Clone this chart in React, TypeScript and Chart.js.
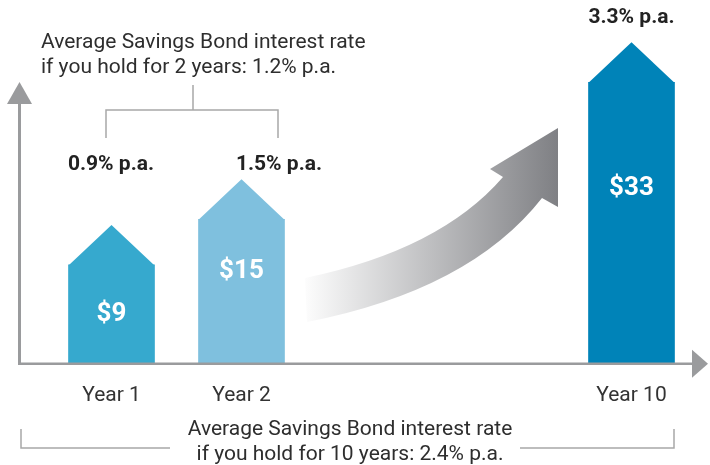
import React, { useEffect, useRef } from 'react';
import { Chart, registerables } from 'chart.js';

Chart.register(...registerables);

// ---- data ----
const categories = ['Year 1', 'Year 2', '', '', 'Year 10'];
const bondValues: (number | null)[] = [9, 15, null, null, 33];
const valueLabels = ['$9', '$15', '', '', '$33'];
const rateLabels = ['0.9% p.a.', '1.5% p.a.', '', '', '3.3% p.a.'];
const barColors = ['#36a9ce', '#7fc0de', '#ffffff', '#ffffff', '#0083b8'];
const avgTitle = 'Average Savings Bond interest rate';
const avgTwoYears = 'if you hold for 2 years: 1.2% p.a.';
const avgTenYears = 'if you hold for 10 years: 2.4% p.a.';

const FONT = 'Roboto';
const TEXT = '#2e2e2e';
const AXIS = '#9a9b9d';
const BRACKET = '#a8a8a8';

const infographic = {
  id: 'infographic',
  afterDatasetsDraw(chart: any) {
    const ctx: CanvasRenderingContext2D = chart.ctx;
    const area = chart.chartArea;
    const base = area.bottom;
    const opts = chart.options.plugins.infographic;
    const meta = chart.getDatasetMeta(0);
    ctx.save();

    // curved gradient arrow (decoration)
    const grad = ctx.createLinearGradient(300, 0, 560, 0);
    grad.addColorStop(0, '#ffffff');
    grad.addColorStop(1, '#7e7f83');
    ctx.fillStyle = grad;
    ctx.beginPath();
    ctx.moveTo(305, 278);
    ctx.quadraticCurveTo(440, 250, 503, 177);
    ctx.lineTo(490, 169);
    ctx.lineTo(558, 128);
    ctx.lineTo(558, 207);
    ctx.lineTo(542, 198);
    ctx.quadraticCurveTo(470, 290, 307, 322);
    ctx.closePath();
    ctx.fill();

    // arrow tops + value labels
    meta.data.forEach((bar: any, i: number) => {
      if (bondValues[i] == null) return;
      const { x, y, width } = bar.getProps(['x', 'y', 'width'], true);
      ctx.fillStyle = barColors[i];
      ctx.beginPath();
      ctx.moveTo(x - width / 2, y + 0.5);
      ctx.lineTo(x, y - opts.tipHeight);
      ctx.lineTo(x + width / 2, y + 0.5);
      ctx.closePath();
      ctx.fill();

      ctx.fillStyle = '#ffffff';
      ctx.font = `bold 26px ${FONT}`;
      ctx.textAlign = 'center';
      ctx.textBaseline = 'middle';
      ctx.fillText(valueLabels[i], x, y + opts.valueLabelOffsets[i]);
    });

    // rate labels
    ctx.fillStyle = '#222222';
    ctx.font = `bold 21px ${FONT}`;
    ctx.textAlign = 'center';
    ctx.textBaseline = 'alphabetic';
    const last = meta.data[4].getProps(['x', 'y'], true);
    ctx.fillText(rateLabels[0], 111, 170);
    ctx.fillText(rateLabels[1], 279, 170);
    ctx.fillText(rateLabels[4], last.x, last.y - opts.tipHeight - 19);

    // axes with arrowheads
    ctx.strokeStyle = AXIS;
    ctx.fillStyle = AXIS;
    ctx.lineWidth = 3;
    ctx.beginPath();
    ctx.moveTo(19.5, base + 1);
    ctx.lineTo(19.5, 100);
    ctx.stroke();
    ctx.beginPath();
    ctx.moveTo(19.5, 82);
    ctx.lineTo(7, 104);
    ctx.lineTo(32, 104);
    ctx.closePath();
    ctx.fill();

    ctx.lineWidth = 2.5;
    ctx.beginPath();
    ctx.moveTo(18, base);
    ctx.lineTo(694, base);
    ctx.stroke();
    ctx.beginPath();
    ctx.moveTo(708, base);
    ctx.lineTo(692, base - 14);
    ctx.lineTo(692, base + 14);
    ctx.closePath();
    ctx.fill();

    // brackets
    ctx.strokeStyle = BRACKET;
    ctx.lineWidth = 1.5;
    ctx.beginPath();
    ctx.moveTo(106, 138);
    ctx.lineTo(106, 110);
    ctx.lineTo(278, 110);
    ctx.lineTo(278, 138);
    ctx.moveTo(193, 110);
    ctx.lineTo(193, 85);
    ctx.stroke();

    ctx.beginPath();
    ctx.moveTo(21, 429);
    ctx.lineTo(21, 448);
    ctx.lineTo(170, 448);
    ctx.moveTo(520, 448);
    ctx.lineTo(674, 448);
    ctx.lineTo(674, 429);
    ctx.stroke();

    // annotation texts
    ctx.fillStyle = TEXT;
    ctx.font = `21px ${FONT}`;
    ctx.textAlign = 'left';
    ctx.textBaseline = 'alphabetic';
    ctx.fillText(avgTitle, 41, 48);
    ctx.fillText(avgTwoYears, 41, 73);
    ctx.textAlign = 'center';
    ctx.fillText(avgTitle, 350, 435);
    ctx.fillText(avgTenYears, 350, 460);

    ctx.restore();
  },
};

export default function App() {
  const ref = useRef<HTMLCanvasElement>(null);
  useEffect(() => {
    if (!ref.current) return;
    const chart = new Chart(ref.current, {
      type: 'bar',
      data: {
        labels: categories,
        datasets: [
          {
            data: bondValues as any,
            backgroundColor: barColors,
            borderWidth: 0,
            barThickness: 86,
            base: -4,
          } as any,
        ],
      },
      options: {
        responsive: false,
        animation: false,
        devicePixelRatio: 1,
        layout: { padding: { left: 46.5, right: 13.5, top: 29, bottom: 38 } },
        plugins: {
          legend: { display: false },
          tooltip: { enabled: false },
          infographic: { tipHeight: 40, valueLabelOffsets: [50, 52, 0, 0, 106] },
        } as any,
        scales: {
          x: {
            grid: { display: false, drawTicks: false },
            border: { display: false },
            ticks: { color: '#333333', font: { family: FONT, size: 21 }, padding: 19, maxRotation: 0, autoSkip: false },
          },
          y: {
            display: false,
            min: -4,
            max: 40,
          },
        },
      },
      plugins: [infographic],
    });
    return () => chart.destroy();
  }, []);
  return (
    <div style={{ position: 'absolute', left: 0, top: 0, width: 710, height: 465, background: '#fff' }}>
      <canvas ref={ref} width={710} height={465} />
    </div>
  );
}
